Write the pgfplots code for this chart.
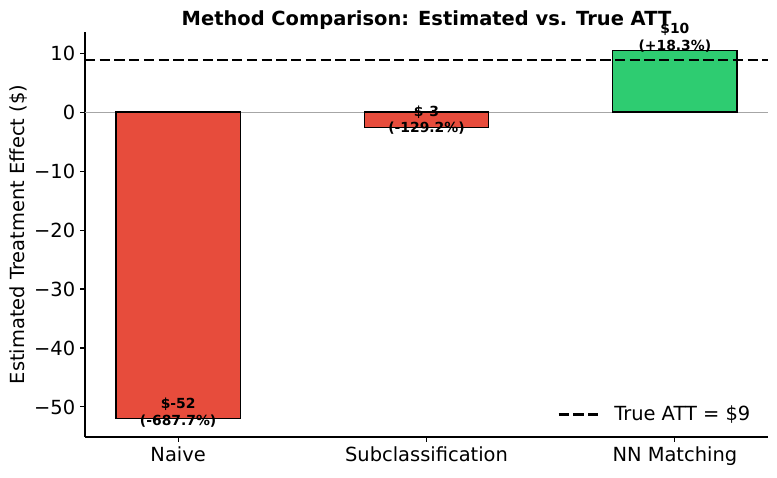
\documentclass[border=0pt]{standalone}
\usepackage{pgfplots}
\pgfplotsset{compat=1.18}
\usepackage{fontspec}
\setmainfont{DejaVu Sans}

\definecolor{barred}{HTML}{E74C3C}
\definecolor{bargreen}{HTML}{2ECC71}

% matplotlib-like legend handle: 2em line, then the gap before the text
\pgfplotsset{shortlegend/.style={legend image code/.code={%
    \draw[##1] (0pt,0pt) -- (28.5pt,0pt);
    \path (37pt,0pt);}}}

\begin{document}
\begin{tikzpicture}
    % picture frame: 777x477 px at 0.72pt per px
    \useasboundingbox (-61.2pt,-28.8pt) rectangle (498.24pt,314.64pt);
    \begin{axis}[
        scale only axis,
        width=491.76pt,
        height=291.6pt,
        xmin=-0.375, xmax=2.375,
        ymin=-55.1, ymax=13.6,
        axis x line*=bottom,
        axis y line*=left,
        axis line style={line width=0.8pt, -},
        xtick={0,1,2},
        xticklabels={Naive, Subclassification, NN Matching},
        ytick={-50,-40,-30,-20,-10,0,10},
        yticklabels={−50,−40,−30,−20,−10,0,10},
        tick align=outside,
        major tick length=3.5pt,
        tick style={line width=0.8pt, black},
        tick label style={font=\fontsize{14}{16}\selectfont},
        ylabel={Estimated Treatment Effect (\$)},
        ylabel style={font=\fontsize{14}{16}\selectfont,
            at={(axis description cs:-0.098,0.5)}, anchor=center},
        title={\bfseries Method Comparison: Estimated vs. True ATT},
        title style={font=\fontsize{14}{16}\selectfont,
            at={(axis description cs:0.5,1)}, anchor=base, yshift=-1pt},
        legend style={draw=none, fill=none, at={(1,0)}, anchor=south east,
            xshift=-7.5pt, yshift=6pt,
            font=\fontsize{14}{16}\selectfont},
        legend cell align=left,
        ybar, bar width=0.5, bar shift=0pt,
        clip=false,
    ]
    % zero line
    \addplot[sharp plot, gray!70, line width=0.8pt, forget plot]
        coordinates {(-0.375,0) (2.375,0)};
    % bars
    \addplot[fill=barred, draw=black, line width=1pt, forget plot]
        coordinates {(0,-52.0)};
    \addplot[fill=barred, draw=black, line width=1pt, forget plot]
        coordinates {(1,-2.58)};
    \addplot[fill=bargreen, draw=black, line width=1pt, forget plot]
        coordinates {(2,10.47)};
    % true ATT
    \addplot[sharp plot, black, line width=2pt, dash pattern=on 7.4pt off 3.2pt,
        shortlegend]
        coordinates {(-0.375,8.85) (2.375,8.85)};
    \addlegendentry{True ATT = \$9}
    % value labels
    \addplot[draw=none, mark=none, forget plot, sharp plot,
        nodes near coords,
        point meta=explicit symbolic,
        every node near coord/.style={anchor=south, inner sep=0pt,
            align=center, font=\fontsize{10}{12}\selectfont\bfseries, black},
    ] coordinates {
        (0,-53.5) [{\$-52\\(-687.7\%)}]
        (1,-3.85) [{\$-3\\(-129.2\%)}]
        (2,10.13) [{\$10\\(+18.3\%)}]
    };
    \end{axis}
\end{tikzpicture}
\end{document}
